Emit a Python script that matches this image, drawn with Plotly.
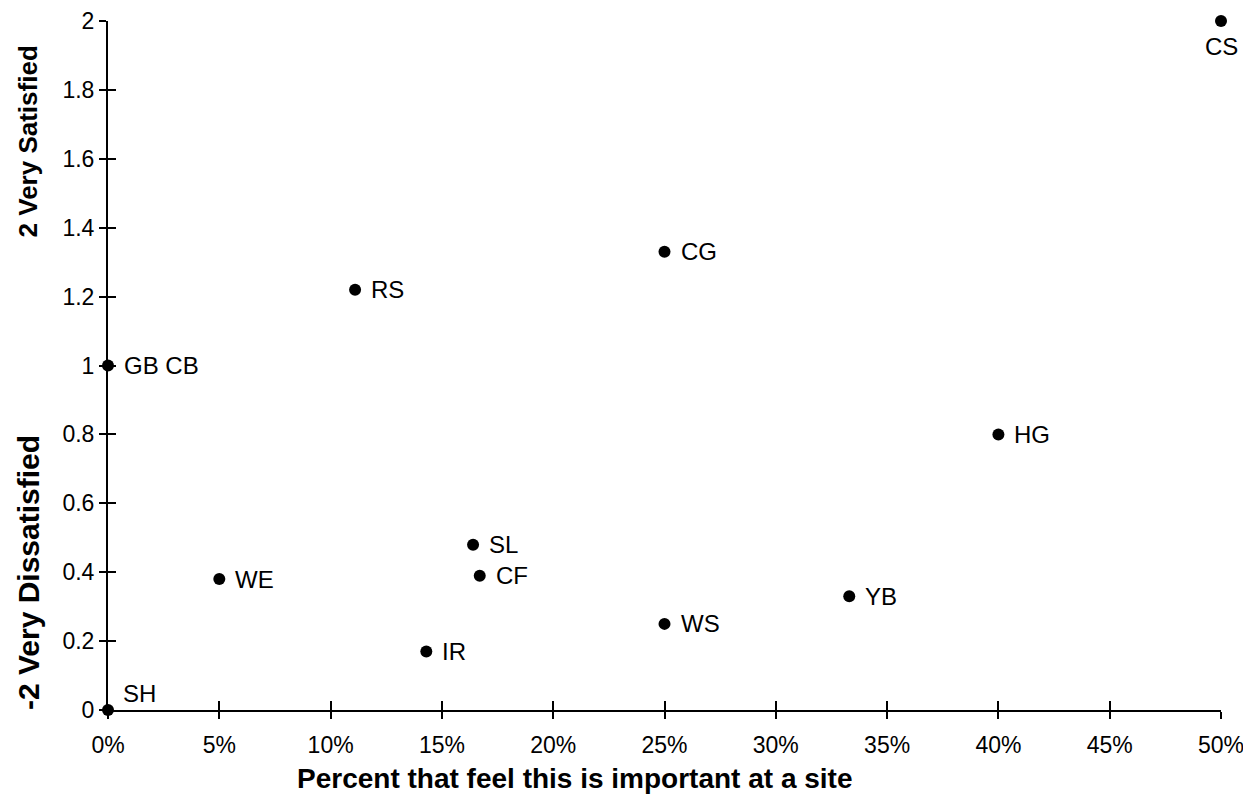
import plotly.graph_objects as go

codes = ["CS", "CG", "RS", "GB CB", "HG", "SL", "WE", "CF", "YB", "WS", "IR", "SH"]
pct_important = [0.50, 0.25, 0.111, 0.0, 0.40, 0.164, 0.05, 0.167, 0.333, 0.25, 0.143, 0.0]
satisfaction = [2.0, 1.33, 1.22, 1.0, 0.80, 0.48, 0.38, 0.39, 0.33, 0.25, 0.17, 0.0]
label_side = ["below", "right", "right", "right", "right", "right", "right", "right",
              "right", "right", "right", "above-right"]

x_ticks = [0, 0.05, 0.10, 0.15, 0.20, 0.25, 0.30, 0.35, 0.40, 0.45, 0.50]
x_tick_text = ["0%", "5%", "10%", "15%", "20%", "25%", "30%", "35%", "40%", "45%", "50%"]
y_ticks = [0, 0.2, 0.4, 0.6, 0.8, 1.0, 1.2, 1.4, 1.6, 1.8, 2.0]
y_tick_text = ["0", "0.2", "0.4", "0.6", "0.8", "1", "1.2", "1.4", "1.6", "1.8", "2"]

x_title = "Percent that feel this is important at a site"
y_title_top = "2 Very Satisfied"
y_title_bottom = "-2 Very Dissatisfied"

FONT = "Liberation Sans, Arial, sans-serif"
NARROW = "Liberation Sans Narrow, Arial Narrow, Liberation Sans, Arial, sans-serif"

# label placement styles (offsets in pixels)
SIDE_STYLE = {
    "right": dict(xanchor="left", yanchor="middle", xshift=14, yshift=0),
    "below": dict(xanchor="center", yanchor="top", xshift=0, yshift=-10),
    "above-right": dict(xanchor="left", yanchor="middle", xshift=13, yshift=17),
}

fig = go.Figure()
fig.add_trace(go.Scatter(
    x=pct_important, y=satisfaction, mode="markers",
    marker=dict(color="black", size=12),
    cliponaxis=False, showlegend=False,
))
# invisible trace to host the overlay axes (gives crossing tick marks)
fig.add_trace(go.Scatter(
    x=pct_important, y=satisfaction, mode="markers", xaxis="x2", yaxis="y2",
    marker=dict(opacity=0), hoverinfo="skip", showlegend=False,
))

annotations = []
for c, xv, yv, side in zip(codes, pct_important, satisfaction, label_side):
    annotations.append(dict(text=c, x=xv, y=yv, xref="x", yref="y", showarrow=False,
                            font=dict(family=FONT, size=24, color="black"),
                            **SIDE_STYLE[side]))

annotations += [
    dict(text="<b>" + y_title_top + "</b>", xref="paper", yref="paper",
         x=-0.072, y=0.825, textangle=-90, showarrow=False,
         xanchor="center", yanchor="middle",
         font=dict(family=NARROW, size=26, color="black")),
    dict(text="<b>" + y_title_bottom + "</b>", xref="paper", yref="paper",
         x=-0.072, y=0.200, textangle=-90, showarrow=False,
         xanchor="center", yanchor="middle",
         font=dict(family=NARROW, size=30, color="black")),
    dict(text="<b>" + x_title + "</b>", xref="paper", yref="paper",
         x=0.419, y=-0.099, showarrow=False,
         xanchor="center", yanchor="middle",
         font=dict(family=NARROW, size=28, color="black")),
]

fig.update_layout(
    width=1235, height=786,
    margin=dict(l=100, r=22, t=13, b=84, autoexpand=False),
    paper_bgcolor="white", plot_bgcolor="white",
    font=dict(family=FONT, size=23, color="black"),
    xaxis=dict(range=[0, 0.5], tickvals=x_ticks, ticktext=x_tick_text,
               showline=True, linecolor="black", linewidth=2, automargin=False,
               showgrid=False, zeroline=False, ticks="outside", ticklen=7,
               tickwidth=1.5, tickcolor="black", ticklabelstandoff=6,
               ticklabeloverflow="allow",
               tickfont=dict(family=FONT, size=23, color="black")),
    yaxis=dict(range=[0, 2], tickvals=y_ticks, ticktext=y_tick_text,
               showline=True, linecolor="black", linewidth=2, automargin=False,
               showgrid=False, zeroline=False, ticks="outside", ticklen=7,
               tickwidth=1.5, tickcolor="black", ticklabeloverflow="allow",
               tickfont=dict(family=FONT, size=23, color="black")),
    xaxis2=dict(range=[0, 0.5], overlaying="x", anchor="y", side="bottom",
                tickvals=x_ticks, showticklabels=False, showline=False,
                showgrid=False, zeroline=False, ticks="inside", ticklen=9,
                tickwidth=1.5, tickcolor="black", automargin=False),
    yaxis2=dict(range=[0, 2], overlaying="y", anchor="x", side="left",
                tickvals=y_ticks, showticklabels=False, showline=False,
                showgrid=False, zeroline=False, ticks="inside", ticklen=8,
                tickwidth=1.5, tickcolor="black", automargin=False),
    annotations=annotations,
)

fig.write_html("out.html")
